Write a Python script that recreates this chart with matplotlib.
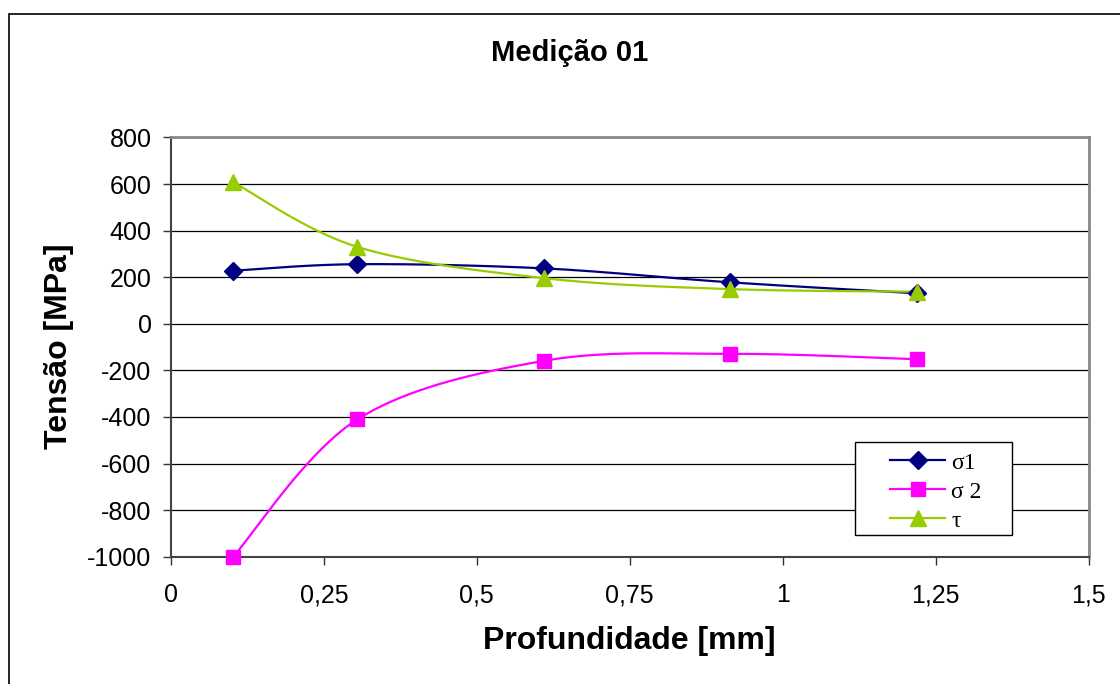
import matplotlib
matplotlib.use("Agg")
import matplotlib.pyplot as plt
from matplotlib.patches import Rectangle
from matplotlib.ticker import FuncFormatter
import numpy as np

# Depth of each measurement [mm] and the three stress series [MPa]
profundidade = [0.1016, 0.3048, 0.6096, 0.9144, 1.2192]
sigma1 = [228, 256, 238, 178, 131]
sigma2 = [-1000, -410, -159, -129, -152]
tau = [608, 330, 196, 149, 138]

x_ticks = [0, 0.25, 0.5, 0.75, 1, 1.25, 1.5]
y_ticks = list(range(-1000, 801, 200))

W, H = 1120, 684


def smooth(xs, ys, n=40):
    # cubic Bezier through every point, control points from neighbours
    xs = np.asarray(xs, float)
    ys = np.asarray(ys, float)
    px = np.concatenate([[xs[0]], xs, [xs[-1]]])
    py = np.concatenate([[ys[0]], ys, [ys[-1]]])
    out_x, out_y = [], []
    t = np.linspace(0, 1, n)
    for i in range(1, len(px) - 2):
        p0 = np.array([px[i], py[i]])
        p3 = np.array([px[i + 1], py[i + 1]])
        c1 = p0 + (np.array([px[i + 1], py[i + 1]]) - np.array([px[i - 1], py[i - 1]])) / 6
        c2 = p3 - (np.array([px[i + 2], py[i + 2]]) - np.array([px[i], py[i]])) / 6
        b = ((1 - t) ** 3)[:, None] * p0 + (3 * (1 - t) ** 2 * t)[:, None] * c1 \
            + (3 * (1 - t) * t ** 2)[:, None] * c2 + (t ** 3)[:, None] * p3
        out_x.extend(b[:, 0])
        out_y.extend(b[:, 1])
    return out_x, out_y


plt.rcParams['font.family'] = ['Liberation Sans', 'DejaVu Sans']
plt.rcParams['axes.unicode_minus'] = False

fig = plt.figure(figsize=(W / 100, H / 100), dpi=100)
ax = fig.add_axes([0.1527, 0.1861, 0.8192, 0.6129])

# outer chart frame, open at right and bottom edges
fig.patches.append(Rectangle((9 / W, -0.05), 1.2, 1 - 14 / H + 0.05,
                             transform=fig.transFigure, fill=False,
                             edgecolor='black', linewidth=1.2))

series = [
    (sigma1, '#000080', 'D', 9, 'σ1'),
    (sigma2, '#FF00FF', 's', 10, 'σ 2'),
    (tau, '#99CC00', '^', 11, 'τ'),
]
handles = []
for ys, color, marker, ms, label in series:
    sx, sy = smooth(profundidade, ys)
    ax.plot(sx, sy, color=color, linewidth=1.6, zorder=3)
    ax.plot(profundidade, ys, linestyle='none', marker=marker, markersize=ms,
            color=color, zorder=4, clip_on=False)
    h, = ax.plot([], [], color=color, linewidth=1.6, marker=marker, markersize=ms)
    handles.append((h, label))

ax.set_xlim(0, 1.5)
ax.set_ylim(-1000, 800)
ax.set_xticks(x_ticks)
ax.set_yticks(y_ticks)
ax.xaxis.set_major_formatter(FuncFormatter(lambda v, p: ('%g' % v).replace('.', ',')))
ax.tick_params(axis='both', direction='out', length=6, width=1, colors='#333333',
               labelsize=18, labelcolor='black', pad=8)
ax.tick_params(axis='x', pad=13)

ax.grid(True, axis='y', color='black', linewidth=0.9)
ax.set_axisbelow(True)

for side in ['top', 'right']:
    ax.spines[side].set_color('#888888')
    ax.spines[side].set_linewidth(2)
for side in ['left', 'bottom']:
    ax.spines[side].set_color('#444444')
    ax.spines[side].set_linewidth(1.5)

fig.text(570 / W, 1 - 53 / H, 'Medição 01', ha='center', va='center',
         fontsize=21, fontweight='bold')
fig.text(629 / W, 1 - 641 / H, 'Profundidade [mm]', ha='center', va='center',
         fontsize=23, fontweight='bold')
fig.text(59 / W, 1 - 346 / H, 'Tensão [MPa]', ha='center', va='center',
         rotation=90, fontsize=23, fontweight='bold')

# legend box drawn separately so the entries can sit inside with wide margins
fig.patches.append(Rectangle((855 / W, 1 - 535 / H), 157 / W, 93 / H,
                             transform=fig.transFigure, facecolor='white',
                             edgecolor='black', linewidth=1, zorder=5))
leg = fig.legend([h for h, _ in handles], [l for _, l in handles],
                 loc='upper left', bbox_to_anchor=(890 / W, 1 - 452 / H),
                 borderaxespad=0, borderpad=0, frameon=False,
                 prop={'family': 'Liberation Serif', 'size': 17},
                 handlelength=2.35, labelspacing=0.32, handletextpad=0.25)
leg.set_zorder(6)

plt.savefig('out.png', dpi=100)
